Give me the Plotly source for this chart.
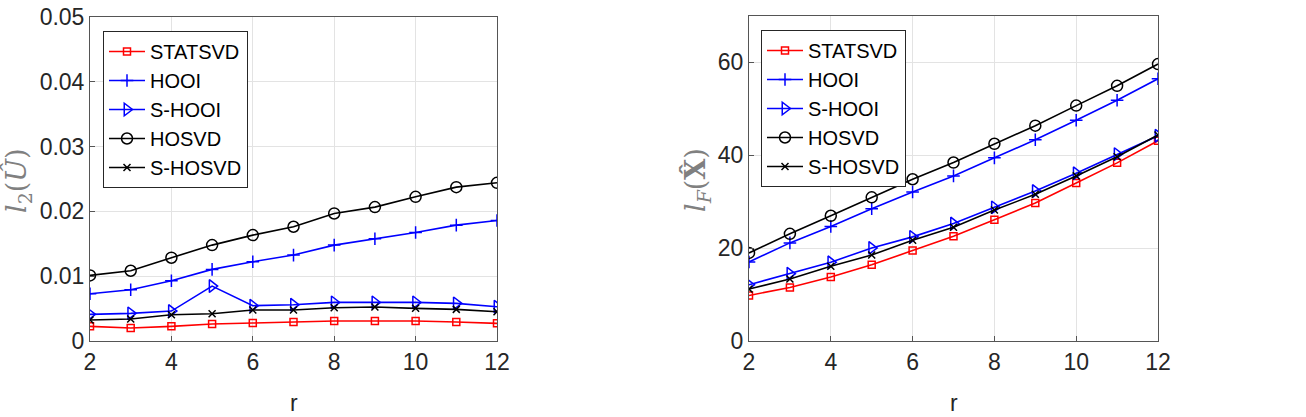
import plotly.graph_objects as go

r = [2, 3, 4, 5, 6, 7, 8, 9, 10, 11, 12]
names = ["STATSVD", "HOOI", "S-HOOI", "HOSVD", "S-HOSVD"]

# Left panel: l2(U-hat)
left_statsvd = [0.00226, 0.00200, 0.00226, 0.00262, 0.00277, 0.00293, 0.00308, 0.00308, 0.00308, 0.00293, 0.00272]
left_hooi = [0.00730, 0.00791, 0.00930, 0.01105, 0.01223, 0.01326, 0.01480, 0.01578, 0.01675, 0.01788, 0.01860]
left_shooi = [0.00411, 0.00427, 0.00462, 0.00848, 0.00545, 0.00560, 0.00596, 0.00596, 0.00596, 0.00581, 0.00529]
left_hosvd = [0.01012, 0.01084, 0.01285, 0.01480, 0.01634, 0.01763, 0.01968, 0.02066, 0.02225, 0.02374, 0.02441]
left_shosvd = [0.00324, 0.00339, 0.00406, 0.00421, 0.00478, 0.00478, 0.00514, 0.00524, 0.00504, 0.00488, 0.00452]

# Right panel: lF(X-hat)
right_statsvd = [9.81, 11.54, 13.78, 16.44, 19.47, 22.57, 26.11, 29.72, 34.04, 38.37, 43.13]
right_hooi = [17.02, 21.13, 24.67, 28.49, 32.10, 35.56, 39.45, 43.35, 47.53, 51.86, 56.47]
right_shooi = [12.12, 14.50, 16.95, 20.05, 22.43, 25.30, 28.78, 32.31, 36.13, 40.25, 44.20]
right_hosvd = [18.97, 23.08, 26.97, 30.94, 34.84, 38.44, 42.48, 46.38, 50.70, 54.96, 59.65]
right_shosvd = [11.18, 13.34, 16.08, 18.54, 21.71, 24.52, 28.20, 31.59, 35.56, 39.67, 44.36]

x_ticks = [2, 4, 6, 8, 10, 12]
left_yticks = [0, 0.01, 0.02, 0.03, 0.04, 0.05]
left_yticklabels = ["0", "0.01", "0.02", "0.03", "0.04", "0.05"]
right_yticks = [0, 20, 40, 60]
right_yticklabels = ["0", "20", "40", "60"]

styles = [
    dict(color="#ff0000", symbol="square-open", size=7),
    dict(color="#0000ff", symbol="cross-thin-open", size=9),
    dict(color="#0000ff", symbol="triangle-right-open", size=11),
    dict(color="#000000", symbol="circle-open", size=11),
    dict(color="#000000", symbol="x-thin-open", size=7),
]

fig = go.Figure()
left_series = [left_statsvd, left_hooi, left_shooi, left_hosvd, left_shosvd]
right_series = [right_statsvd, right_hooi, right_shooi, right_hosvd, right_shosvd]

for name, ys, st in zip(names, left_series, styles):
    fig.add_trace(go.Scatter(
        x=r, y=ys, name=name, mode="lines+markers", xaxis="x", yaxis="y",
        legend="legend",
        line=dict(color=st["color"], width=1.6),
        marker=dict(symbol=st["symbol"], size=st["size"], color=st["color"],
                    line=dict(color=st["color"], width=1.5)),
    ))
for name, ys, st in zip(names, right_series, styles):
    fig.add_trace(go.Scatter(
        x=r, y=ys, name=name, mode="lines+markers", xaxis="x2", yaxis="y2",
        legend="legend2",
        line=dict(color=st["color"], width=1.6),
        marker=dict(symbol=st["symbol"], size=st["size"], color=st["color"],
                    line=dict(color=st["color"], width=1.5)),
    ))

W, H = 1306, 417
font = dict(family="Liberation Sans, Arial, sans-serif", size=23, color="#262626")
legend_font = dict(family="Liberation Sans, Arial, sans-serif", size=20, color="#000000")

axis_common = dict(
    showgrid=True, gridcolor="#e3e3e3", gridwidth=1,
    showline=True, linecolor="#555555", linewidth=1, mirror=True,
    ticks="inside", ticklen=5, tickcolor="#555555",
    zeroline=False, tickfont=font,
)

fig.update_layout(
    width=W, height=H, autosize=False,
    margin=dict(l=0, r=0, t=0, b=0, autoexpand=False),
    paper_bgcolor="white", plot_bgcolor="white",
    font=font,
    xaxis=dict(domain=[90 / W, 497 / W], range=[2, 12], tickvals=x_ticks,
               anchor="y", **axis_common),
    yaxis=dict(domain=[1 - 341 / H, 1 - 17 / H], range=[0, 0.05],
               tickvals=left_yticks, ticktext=left_yticklabels, anchor="x", **axis_common),
    xaxis2=dict(domain=[749 / W, 1158 / W], range=[2, 12], tickvals=x_ticks,
                anchor="y2", **axis_common),
    yaxis2=dict(domain=[1 - 341 / H, 1 - 16 / H], range=[0, 70],
                tickvals=right_yticks, ticktext=right_yticklabels, anchor="x2", **axis_common),
    legend=dict(x=103 / W, y=1 - 31 / H, xanchor="left", yanchor="top",
                bgcolor="white", bordercolor="#262626", borderwidth=1,
                font=legend_font, tracegroupgap=0, itemwidth=36),
    legend2=dict(x=761 / W, y=1 - 30 / H, xanchor="left", yanchor="top",
                 bgcolor="white", bordercolor="#262626", borderwidth=1,
                 font=legend_font, tracegroupgap=0, itemwidth=36),
    showlegend=True,
)

label_font = dict(family="DejaVu Serif, Liberation Serif, serif", size=27, color="#808080")
fig.add_annotation(x=17 / W, y=1 - 181 / H, xref="paper", yref="paper",
                   text="<i>l</i><sub>2</sub>(<i>Û</i>)", textangle=-90,
                   showarrow=False, font=label_font, xanchor="center", yanchor="middle")
fig.add_annotation(x=697 / W, y=1 - 180 / H, xref="paper", yref="paper",
                   text="<i>l</i><sub><i>F</i></sub>(<b>X̂</b>)", textangle=-90,
                   showarrow=False, font=label_font, xanchor="center", yanchor="middle")
fig.add_annotation(x=293.5 / W, y=1 - 403 / H, xref="paper", yref="paper",
                   text="r", showarrow=False, font=font, xanchor="center", yanchor="middle")
fig.add_annotation(x=953.5 / W, y=1 - 403 / H, xref="paper", yref="paper",
                   text="r", showarrow=False, font=font, xanchor="center", yanchor="middle")

fig.write_html(
    "out.html",
    post_script="document.body.style.margin='0';document.body.style.overflow='hidden';",
)
